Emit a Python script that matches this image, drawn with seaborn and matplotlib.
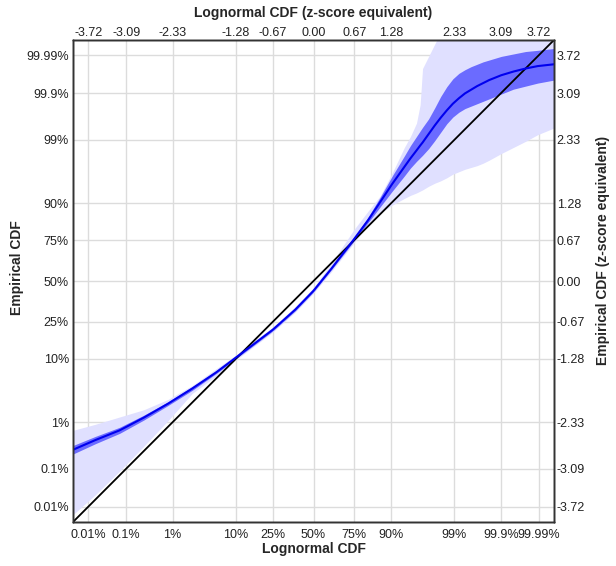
import matplotlib
matplotlib.use("Agg")
import matplotlib.pyplot as plt
import seaborn as sns
import pandas as pd

# Data (z-score space)
z_x = [-3.97, -3.6, -3.2, -2.8, -2.4, -2.0, -1.6, -1.28, -1.0, -0.67, -0.3, 0.0, 0.3, 0.67,
       0.9, 1.1, 1.3, 1.5, 1.6, 1.7, 1.76, 1.8, 1.9, 2.0, 2.1, 2.2, 2.3, 2.4, 2.5, 2.6, 2.7,
       2.8, 2.9, 3.1, 3.3, 3.5, 3.7, 3.97]
curve = [-2.78, -2.62, -2.46, -2.25, -2.02, -1.77, -1.50, -1.26, -1.05, -0.80, -0.47, -0.16, 0.21, 0.69,
         1.00, 1.30, 1.60, 1.88, 2.02, 2.15, 2.23, 2.28, 2.42, 2.56, 2.69, 2.81, 2.92, 3.01, 3.09, 3.15, 3.21,
         3.26, 3.31, 3.39, 3.45, 3.50, 3.54, 3.57]
dark_lo = [-2.85, -2.68, -2.51, -2.29, -2.05, -1.80, -1.52, -1.28, -1.07, -0.82, -0.49, -0.18, 0.19, 0.66,
           0.96, 1.22, 1.48, 1.73, 1.86, 1.97, 2.03, 2.07, 2.18, 2.31, 2.45, 2.59, 2.70, 2.78, 2.84, 2.88, 2.92,
           2.96, 3.00, 3.08, 3.16, 3.21, 3.26, 3.31]
dark_hi = [-2.71, -2.56, -2.41, -2.21, -1.99, -1.74, -1.48, -1.24, -1.03, -0.78, -0.45, -0.14, 0.23, 0.72,
           1.05, 1.38, 1.73, 2.06, 2.23, 2.38, 2.47, 2.53, 2.67, 2.85, 3.04, 3.20, 3.33, 3.42, 3.48, 3.53, 3.57,
           3.61, 3.64, 3.70, 3.74, 3.78, 3.80, 3.83]
light_lo = [-3.85, -3.52, -3.13, -2.72, -2.30, -1.85, -1.56, -1.30, -1.09, -0.84, -0.51, -0.20, 0.16, 0.63,
            0.93, 1.12, 1.25, 1.36, 1.41, 1.45, 1.48, 1.50, 1.56, 1.61, 1.65, 1.70, 1.76, 1.80, 1.84, 1.87, 1.90,
            1.94, 1.99, 2.10, 2.20, 2.30, 2.41, 2.52]
light_hi = [-2.46, -2.36, -2.24, -2.12, -1.95, -1.72, -1.44, -1.22, -1.00, -0.76, -0.42, -0.11, 0.30, 0.85,
            1.15, 1.40, 1.78, 2.20, 2.38, 2.60, 2.90, 3.50, 3.70, 3.90, 4.10, 4.10, 4.10, 4.10, 4.10, 4.10, 4.10,
            4.10, 4.10, 4.10, 4.10, 4.10, 4.10, 4.10]

tick_z = [-3.719, -3.090, -2.326, -1.282, -0.674, 0.0, 0.674, 1.282, 2.326, 3.090, 3.719]
pct_labels = ['0.01%', '0.1%', '1%', '10%', '25%', '50%', '75%', '90%', '99%', '99.9%', '99.99%']
z_labels = ['-3.72', '-3.09', '-2.33', '-1.28', '-0.67', '0.00', '0.67', '1.28', '2.33', '3.09', '3.72']
lim = [-3.97, 3.97]

sns.set_style("white")
plt.rcParams['font.family'] = ['Liberation Sans', 'DejaVu Sans']

fig = plt.figure(figsize=(6.16, 5.66), dpi=100)
ax = fig.add_axes([73/616, 1-522/566, (554-73)/616, (522-40)/566])

df = pd.DataFrame({'x': z_x, 'y': curve})
ax.fill_between(z_x, light_lo, light_hi, color='#e0e0ff', linewidth=0, zorder=1)
ax.fill_between(z_x, dark_lo, dark_hi, color='#6b6bff', linewidth=0, zorder=2)
sns.lineplot(data=pd.DataFrame({'x': lim, 'y': lim}), x='x', y='y', color='black',
             linewidth=1.3, ax=ax, zorder=3)
sns.lineplot(data=df, x='x', y='y', color='#0000ee', linewidth=1.5, ax=ax, zorder=4)

ax.set_xlim(lim)
ax.set_ylim(lim)
ax.set_xticks(tick_z)
ax.set_xticklabels(pct_labels)
ax.set_yticks(tick_z)
ax.set_yticklabels(pct_labels)
ax.grid(True, color='#dcdcdc', linewidth=1)
ax.set_axisbelow(True)
ax.tick_params(axis='x', length=0, labelsize=9, pad=5, colors='#222222')
ax.tick_params(axis='y', length=0, labelsize=9, pad=3, colors='#222222')
ax.set_xlabel('Lognormal CDF', fontsize=10, fontweight='bold', labelpad=1)
ax.set_ylabel('Empirical CDF', fontsize=10, fontweight='bold')
ax.yaxis.set_label_coords(-0.102, 0.527)
for s in ax.spines.values():
    s.set_color('#333333')
    s.set_linewidth(1)

axt = ax.twiny()
axt.set_xlim(lim)
axt.set_xticks(tick_z)
axt.set_xticklabels(z_labels)
axt.tick_params(length=0, labelsize=9, pad=1, colors='#222222')
axt.set_xlabel('Lognormal CDF (z-score equivalent)', fontsize=10, fontweight='bold', labelpad=7)

axr = ax.twinx()
axr.set_ylim(lim)
axr.set_yticks(tick_z)
axr.set_yticklabels(z_labels)
axr.tick_params(length=0, labelsize=9, pad=2, colors='#222222')
axr.set_ylabel('Empirical CDF (z-score equivalent)', fontsize=10, fontweight='bold')
axr.yaxis.set_label_coords(1.087, 0.564)
for a in (axt, axr):
    for s in a.spines.values():
        s.set_color('#333333')
        s.set_linewidth(1)

fig.savefig('out.png', dpi=100)
